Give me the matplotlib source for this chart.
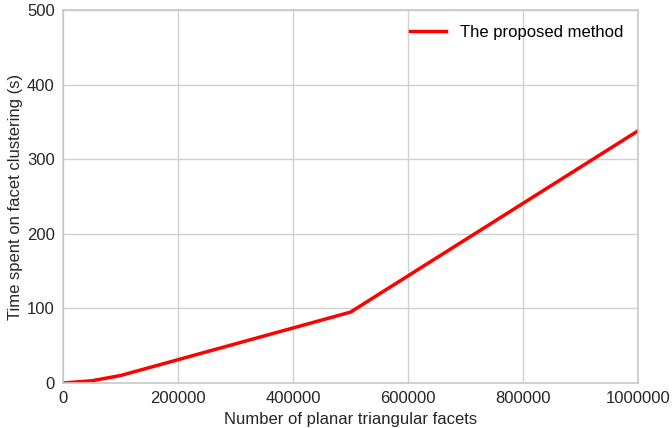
import matplotlib
matplotlib.use("Agg")
import matplotlib.pyplot as plt

facets = [0, 50000, 100000, 500000, 1000000]
seconds = [0, 3, 10, 95, 338]
series_label = "The proposed method"

plt.rcParams['font.family'] = ['Liberation Sans', 'DejaVu Sans']

fig = plt.figure(figsize=(6.72, 4.28), dpi=100)
ax = fig.add_axes([63 / 672, 45 / 428, 575 / 672, 373 / 428])

ax.plot(facets, seconds, color='#ff0000', linewidth=2.5, label=series_label)

ax.set_xlim(0, 1000000)
ax.set_ylim(0, 500)
ax.set_xticks([0, 200000, 400000, 600000, 800000, 1000000])
ax.set_xticklabels(['0', '200000', '400000', '600000', '800000', '1000000'])
ax.set_yticks([0, 100, 200, 300, 400, 500])

ax.grid(True, color='#d0d0d0', linewidth=1.0)
ax.set_axisbelow(True)
for sp in ax.spines.values():
    sp.set_color('#c8c8c8')
    sp.set_linewidth(1.2)
ax.tick_params(axis='both', length=0, labelsize=12, colors='#262626', pad=6)

ax.set_xlabel('Number of planar triangular facets', fontsize=12, color='#262626', labelpad=4)
ax.set_ylabel('Time spent on facet clustering (s)', fontsize=12, color='#262626', labelpad=3)

ax.legend(loc='upper right', frameon=False, fontsize=12, handlelength=2.2)

fig.savefig('out.png', dpi=100)
